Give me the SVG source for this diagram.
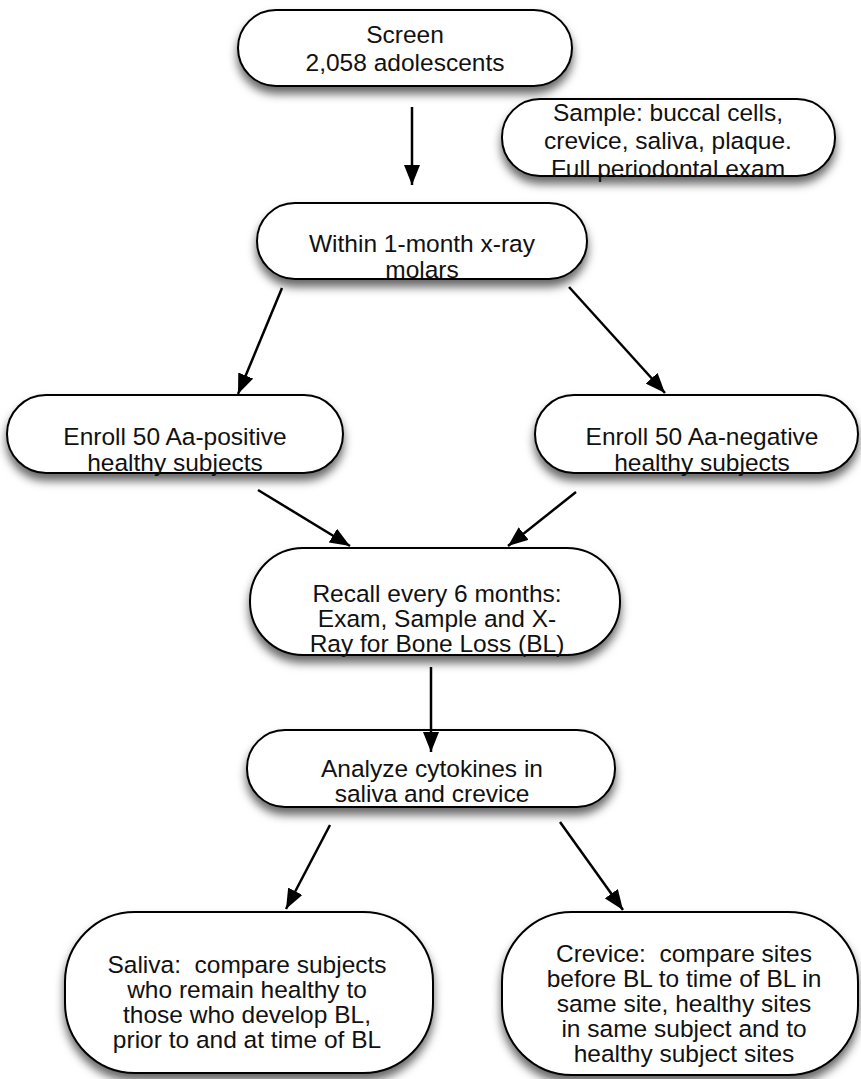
<svg xmlns="http://www.w3.org/2000/svg" width="861" height="1079" viewBox="0 0 861 1079">
<defs>
<filter id="sh" x="-10%" y="-20%" width="120%" height="160%">
<feDropShadow dx="0" dy="7" stdDeviation="5" flood-color="#000" flood-opacity="0.6"/>
</filter>
<marker id="arr" viewBox="0 0 20 16" refX="20" refY="8" markerWidth="20" markerHeight="16" orient="auto" markerUnits="userSpaceOnUse">
<path d="M0,0 L20,8 L0,16 Z" fill="#000"/>
</marker>
</defs>
<style>
.node rect{fill:#fff;stroke:#000;stroke-width:2;filter:url(#sh)}
.node text{font-family:"Liberation Sans",Arial,sans-serif;font-size:24.5px;fill:#111;text-anchor:middle;white-space:pre}
.conn line{stroke:#000;stroke-width:2.5;marker-end:url(#arr)}
</style>
<rect width="861" height="1079" fill="#fff"/>
<g class="node" id="screen">
<rect x="238" y="10" width="334" height="76" rx="38"/>
<text x="405" y="43">Screen</text>
<text x="405" y="71">2,058 adolescents</text>
</g>
<g class="node" id="sample">
<rect x="502" y="99" width="333" height="77" rx="38"/>
<text x="668" y="121">Sample: buccal cells,</text>
<text x="668" y="149">crevice, saliva, plaque.</text>
<text x="668" y="177">Full periodontal exam</text>
</g>
<g class="node" id="within">
<rect x="257" y="203" width="330" height="76" rx="38"/>
<text x="422" y="252">Within 1-month x-ray</text>
<text x="422" y="278">molars</text>
</g>
<g class="node" id="enrollpos">
<rect x="7" y="395" width="336" height="78" rx="39"/>
<text x="175" y="445">Enroll 50 Aa-positive</text>
<text x="175" y="471">healthy subjects</text>
</g>
<g class="node" id="enrollneg">
<rect x="535" y="395" width="323" height="78" rx="39"/>
<text x="702" y="445">Enroll 50 Aa-negative</text>
<text x="702" y="471">healthy subjects</text>
</g>
<g class="node" id="recall">
<rect x="250" y="548" width="370" height="107" rx="53"/>
<text x="437" y="602">Recall every 6 months:</text>
<text x="437" y="627">Exam, Sample and X-</text>
<text x="437" y="652">Ray for Bone Loss (BL)</text>
</g>
<g class="node" id="analyze">
<rect x="247" y="730" width="368" height="77" rx="38"/>
<text x="432" y="777">Analyze cytokines in</text>
<text x="432" y="802">saliva and crevice</text>
</g>
<g class="node" id="saliva">
<rect x="65" y="912" width="368" height="161" rx="70"/>
<text x="247" y="973" xml:space="preserve">Saliva:  compare subjects</text>
<text x="247" y="998">who remain healthy to</text>
<text x="247" y="1023">those who develop BL,</text>
<text x="247" y="1048">prior to and at time of BL</text>
</g>
<g class="node" id="crevice">
<rect x="502" y="912" width="356" height="163" rx="70"/>
<text x="684" y="962" xml:space="preserve">Crevice:  compare sites</text>
<text x="684" y="987">before BL to time of BL in</text>
<text x="684" y="1012">same site, healthy sites</text>
<text x="684" y="1037">in same subject and to</text>
<text x="684" y="1062">healthy subject sites</text>
</g>
<g class="conn" id="connectors">
<line x1="412" y1="107" x2="412" y2="185"/>
<line x1="282" y1="288" x2="238" y2="394"/>
<line x1="569" y1="287" x2="665" y2="393"/>
<line x1="258" y1="490" x2="350" y2="546"/>
<line x1="576" y1="492" x2="508" y2="546"/>
<line x1="431" y1="667" x2="431" y2="752"/>
<line x1="330" y1="825" x2="286" y2="909"/>
<line x1="560" y1="822" x2="623" y2="910"/>
</g>
</svg>
